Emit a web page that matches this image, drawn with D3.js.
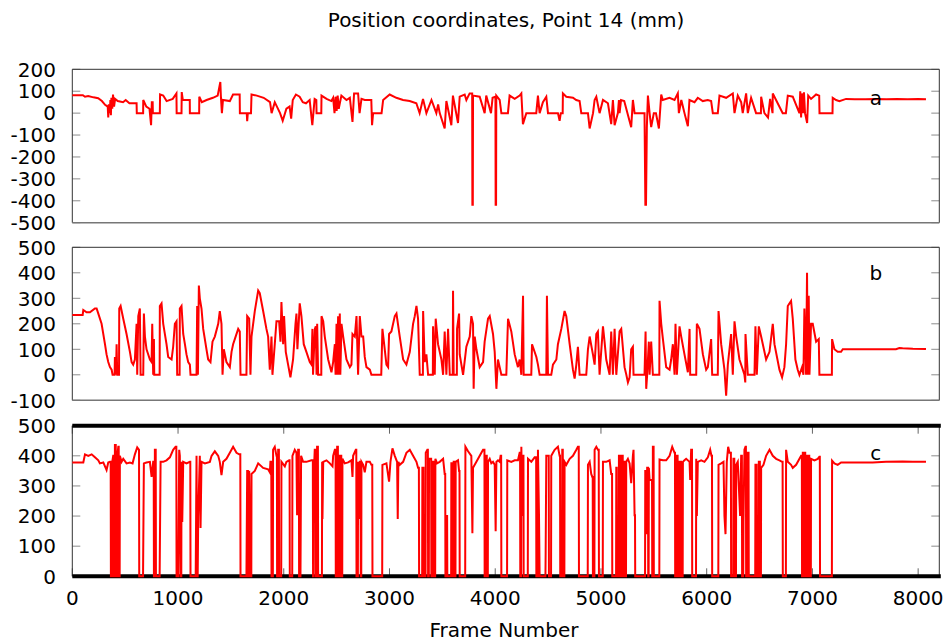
<!DOCTYPE html>
<html><head><meta charset="utf-8">
<script src="https://cdn.jsdelivr.net/npm/d3@7"></script>
<style>body{margin:0;background:#fff}svg{display:block}text{font-family:"DejaVu Sans",sans-serif;fill:#000}</style>
</head><body><svg id="chart" width="948" height="642"></svg>
<script>
const title = "Position coordinates, Point 14 (mm)";
const xLabel = "Frame Number";
const xTicks = [0,1000,2000,3000,4000,5000,6000,7000,8000];
const xDomain = [0,8200];
const panelLabels = ["a","b","c"];
const yTicksA = [-500,-400,-300,-200,-100,0,100,200];
const yTicksB = [-100,0,100,200,300,400,500];
const yTicksC = [0,100,200,300,400,500];
const labelFrame = 7600;
const labelValues = [70,400,410];

const seriesA = [[0,82],[100,82],[120,75],[150,78],[200,72],[245,68],[280,55],[310,38],[335,30],[340,-20],[345,40],[355,0],[360,60],[365,-10],[370,70],[378,20],[385,85],[395,30],[405,65],[430,55],[480,50],[505,60],[540,45],[608,45],[610,0],[670,0],[671,60],[700,30],[730,20],[745,-55],[752,50],[760,50],[762,0],[828,0],[830,85],[860,80],[892,55],[950,65],[985,90],[987,0],[1033,0],[1035,96],[1045,60],[1111,60],[1112,0],[1200,0],[1201,75],[1225,50],[1270,60],[1330,70],[1375,80],[1400,142],[1405,80],[1415,0],[1425,60],[1490,55],[1520,85],[1583,85],[1585,0],[1650,0],[1654,-37],[1660,0],[1690,0],[1695,85],[1745,80],[1810,70],[1870,50],[1885,0],[1915,50],[1965,0],[1990,-35],[2025,20],[2055,30],[2070,-25],[2085,60],[2115,85],[2150,75],[2180,50],[2210,45],[2245,60],[2270,-55],[2292,65],[2308,60],[2310,0],[2355,0],[2357,80],[2405,65],[2450,55],[2467,70],[2480,0],[2490,75],[2500,10],[2510,80],[2520,20],[2545,80],[2593,60],[2625,70],[2650,-40],[2665,90],[2703,90],[2717,0],[2735,65],[2766,60],[2828,60],[2835,-55],[2845,0],[2925,0],[2940,60],[3002,85],[3065,70],[3128,60],[3191,55],[3254,45],[3285,0],[3317,65],[3349,0],[3397,60],[3443,0],[3460,40],[3475,0],[3522,-70],[3538,55],[3585,-55],[3600,80],[3648,-45],[3664,75],[3711,85],[3727,60],[3758,90],[3782,90],[3784,-418],[3788,-418],[3790,80],[3853,75],[3900,0],[3915,80],[3960,0],[3975,70],[4002,75],[4004,-418],[4008,-418],[4010,80],[4042,60],[4058,0],[4120,0],[4136,80],[4184,65],[4231,80],[4247,90],[4262,-50],[4294,0],[4388,0],[4404,80],[4420,0],[4451,50],[4483,75],[4499,0],[4593,0],[4609,-35],[4620,0],[4638,0],[4640,90],[4672,75],[4735,70],[4766,60],[4798,55],[4814,0],[4877,0],[4893,-70],[4925,0],[4940,60],[4956,75],[4987,0],[5019,60],[5066,45],[5097,-50],[5113,60],[5129,-55],[5160,0],[5170,60],[5176,0],[5190,60],[5220,55],[5286,-64],[5302,60],[5318,0],[5412,0],[5420,-418],[5426,-418],[5434,-64],[5444,80],[5460,0],[5475,-64],[5500,0],[5520,0],[5548,-70],[5570,85],[5585,60],[5648,70],[5696,60],[5727,90],[5737,0],[5760,60],[5790,0],[5822,-60],[5837,60],[5885,50],[5916,70],[5963,55],[6010,60],[6042,55],[6058,0],[6105,0],[6121,80],[6184,70],[6247,90],[6263,0],[6294,80],[6326,50],[6341,0],[6373,90],[6389,0],[6420,70],[6467,0],[6513,0],[6515,75],[6546,0],[6580,-20],[6600,65],[6623,0],[6625,90],[6656,60],[6719,0],[6749,0],[6767,80],[6814,75],[6877,0],[6885,100],[6893,-20],[6900,90],[6910,0],[6920,95],[6930,0],[6950,-45],[6960,80],[6987,65],[7035,85],[7064,80],[7067,0],[7190,0],[7192,70],[7224,60],[7255,55],[7318,65],[7400,63],[7500,63],[7600,64],[7700,63],[7800,64],[7900,63],[8000,64],[8074,63]];

const seriesB = [[0,235],[98,235],[104,254],[135,245],[167,245],[214,260],[230,260],[246,240],[277,200],[309,120],[324,80],[340,50],[356,30],[372,20],[381,0],[400,0],[403,70],[413,0],[419,120],[425,0],[442,0],[444,260],[457,270],[482,220],[513,160],[545,90],[561,50],[576,40],[592,60],[608,200],[614,0],[624,230],[639,260],[646,0],[671,0],[677,240],[687,150],[702,100],[734,60],[750,50],[756,200],[765,0],[772,140],[775,0],[826,0],[828,270],[844,280],[860,200],[891,120],[907,70],[939,60],[954,110],[970,200],[986,210],[992,0],[1015,0],[1017,260],[1033,270],[1049,160],[1065,120],[1080,80],[1096,50],[1112,40],[1118,0],[1175,0],[1181,270],[1188,0],[1197,350],[1206,300],[1222,260],[1238,180],[1269,100],[1285,60],[1307,50],[1326,130],[1348,150],[1380,200],[1395,250],[1411,200],[1421,0],[1433,100],[1458,50],[1490,30],[1506,90],[1521,120],[1537,140],[1569,180],[1584,170],[1591,0],[1647,0],[1654,230],[1673,220],[1685,0],[1695,150],[1726,250],[1758,330],[1773,320],[1805,250],[1836,180],[1852,150],[1868,20],[1884,150],[1893,0],[1915,120],[1931,210],[1956,210],[1969,130],[1978,285],[1994,120],[2003,230],[2019,90],[2041,40],[2063,-10],[2088,60],[2111,200],[2120,240],[2129,100],[2151,280],[2167,230],[2189,120],[2214,90],[2246,50],[2262,40],[2271,180],[2277,0],[2294,180],[2303,190],[2310,0],[2316,200],[2325,0],[2355,0],[2357,230],[2373,210],[2388,150],[2420,60],[2451,10],[2467,50],[2483,120],[2490,0],[2499,200],[2505,0],[2514,230],[2520,0],[2530,240],[2535,0],[2546,200],[2562,150],[2593,60],[2625,30],[2640,40],[2650,160],[2672,150],[2688,230],[2703,0],[2719,230],[2735,150],[2751,150],[2766,70],[2782,30],[2814,20],[2829,0],[2922,0],[2933,180],[2955,100],[2971,40],[2987,30],[2996,160],[3018,170],[3050,230],[3066,240],[3097,150],[3129,60],[3160,40],[3192,90],[3223,200],[3239,230],[3255,270],[3270,220],[3286,0],[3316,0],[3318,250],[3333,50],[3349,80],[3365,0],[3410,0],[3412,190],[3428,0],[3437,220],[3459,120],[3491,60],[3507,0],[3522,170],[3538,0],[3554,180],[3570,0],[3598,0],[3601,330],[3607,0],[3637,0],[3639,180],[3658,240],[3664,80],[3696,0],[3727,110],[3759,150],[3774,230],[3790,200],[3796,-55],[3806,150],[3822,100],[3853,30],[3885,50],[3900,130],[3932,220],[3948,230],[3979,160],[3995,90],[4011,-55],[4026,60],[4042,30],[4058,0],[4105,0],[4121,220],[4152,170],[4184,80],[4215,30],[4231,60],[4247,0],[4263,310],[4269,0],[4341,0],[4348,120],[4389,70],[4404,40],[4420,0],[4483,0],[4489,310],[4499,0],[4530,0],[4546,40],[4578,60],[4593,120],[4625,180],[4656,250],[4672,230],[4704,120],[4735,20],[4751,-15],[4767,40],[4782,110],[4798,0],[4861,0],[4877,100],[4893,150],[4924,80],[4940,40],[4956,160],[4971,170],[4987,0],[5019,190],[5034,130],[5050,60],[5082,0],[5097,170],[5113,0],[5129,180],[5145,0],[5176,170],[5192,180],[5223,30],[5240,0],[5255,-30],[5271,-10],[5286,100],[5302,110],[5308,0],[5412,0],[5422,170],[5428,-55],[5437,0],[5453,130],[5460,0],[5475,130],[5491,0],[5552,0],[5554,290],[5570,200],[5586,140],[5617,30],[5649,20],[5664,60],[5680,120],[5696,0],[5705,200],[5718,0],[5743,190],[5759,150],[5790,80],[5822,10],[5838,180],[5844,0],[5901,0],[5907,200],[5932,180],[5964,80],[5995,20],[6011,30],[6042,140],[6052,0],[6105,0],[6112,250],[6137,120],[6168,20],[6184,-82],[6200,40],[6231,160],[6247,0],[6263,210],[6279,150],[6310,60],[6342,20],[6357,0],[6365,-30],[6367,160],[6389,0],[6452,0],[6461,190],[6474,0],[6493,190],[6515,150],[6562,60],[6594,90],[6625,200],[6641,120],[6688,20],[6713,-10],[6735,30],[6751,120],[6767,270],[6798,290],[6814,220],[6839,60],[6861,20],[6877,0],[6902,30],[6915,0],[6924,260],[6940,0],[6949,400],[6956,0],[6965,310],[6972,0],[6987,200],[7003,200],[7035,130],[7060,140],[7066,0],[7184,0],[7186,140],[7208,100],[7239,90],[7271,90],[7287,100],[7500,100],[7790,100],[7822,105],[7853,104],[7950,102],[8074,101]];

const seriesC = [[0,378],[104,378],[120,405],[151,400],[183,405],[214,395],[246,385],[261,375],[293,378],[324,353],[340,378],[356,380],[363,380],[365,0],[376,0],[378,380],[387,400],[392,400],[394,0],[400,0],[403,436],[411,436],[413,0],[423,0],[425,400],[435,430],[439,430],[441,0],[448,0],[450,400],[466,380],[482,390],[513,375],[545,378],[570,375],[592,405],[614,428],[631,420],[633,0],[669,0],[677,375],[702,378],[734,380],[750,330],[765,380],[770,380],[772,0],[779,0],[781,420],[789,420],[791,0],[826,0],[835,380],[860,380],[891,385],[923,395],[954,420],[977,430],[984,430],[986,0],[1002,0],[1011,420],[1017,400],[1024,0],[1031,0],[1033,380],[1040,180],[1049,380],[1080,375],[1112,380],[1116,380],[1118,0],[1167,0],[1175,400],[1181,0],[1186,0],[1191,200],[1206,400],[1213,160],[1222,380],[1254,375],[1301,380],[1317,400],[1348,415],[1380,400],[1395,380],[1411,336],[1427,380],[1458,390],[1490,410],[1521,430],[1553,410],[1578,405],[1589,405],[1591,0],[1647,0],[1654,350],[1661,350],[1663,0],[1671,0],[1673,350],[1679,170],[1685,0],[1693,0],[1695,340],[1726,350],[1758,375],[1805,360],[1852,355],[1868,345],[1874,380],[1882,380],[1884,0],[1897,0],[1899,420],[1915,430],[1931,400],[1935,400],[1937,0],[1945,0],[1947,420],[1954,420],[1956,0],[1976,0],[1978,380],[2010,365],[2025,380],[2051,385],[2055,385],[2057,0],[2080,0],[2082,400],[2104,420],[2120,410],[2126,203],[2136,420],[2143,420],[2145,0],[2158,0],[2164,400],[2183,380],[2214,380],[2262,385],[2275,385],[2277,0],[2282,0],[2284,340],[2293,420],[2301,420],[2303,0],[2313,0],[2315,430],[2323,430],[2325,0],[2361,0],[2363,380],[2366,190],[2373,380],[2404,385],[2436,375],[2461,365],[2467,400],[2483,420],[2490,420],[2492,0],[2503,0],[2505,430],[2512,430],[2514,0],[2528,0],[2530,400],[2544,400],[2546,0],[2553,0],[2555,390],[2577,375],[2609,378],[2640,385],[2650,330],[2656,400],[2681,420],[2686,420],[2688,0],[2701,0],[2703,380],[2710,190],[2719,380],[2726,380],[2728,0],[2733,0],[2735,380],[2751,370],[2766,345],[2782,380],[2814,380],[2829,370],[2837,370],[2839,0],[2931,0],[2933,370],[2971,375],[2996,314],[3009,380],[3028,425],[3050,400],[3072,380],[3078,190],[3084,380],[3097,370],[3129,380],[3160,410],[3192,420],[3223,400],[3255,380],[3270,360],[3278,360],[3280,0],[3309,0],[3311,360],[3322,360],[3324,0],[3341,0],[3343,410],[3358,420],[3363,420],[3365,0],[3372,0],[3374,390],[3394,390],[3396,0],[3410,0],[3412,380],[3416,380],[3418,0],[3432,0],[3434,390],[3450,375],[3475,380],[3507,390],[3522,340],[3527,340],[3529,0],[3536,0],[3538,200],[3545,200],[3547,0],[3583,0],[3585,375],[3593,375],[3595,0],[3605,0],[3607,380],[3615,380],[3617,0],[3624,0],[3626,380],[3648,385],[3658,350],[3662,350],[3664,0],[3716,0],[3718,430],[3743,415],[3774,400],[3784,143],[3790,360],[3822,380],[3869,410],[3885,420],[3898,420],[3900,0],[3914,0],[3916,400],[3920,400],[3922,0],[3930,0],[3932,380],[3948,390],[3963,375],[3979,380],[3995,370],[4004,150],[4011,380],[4026,385],[4042,380],[4051,400],[4056,400],[4058,0],[4112,0],[4114,385],[4152,380],[4184,385],[4215,385],[4231,410],[4235,410],[4237,0],[4245,0],[4247,430],[4256,200],[4263,400],[4267,400],[4269,0],[4308,0],[4310,390],[4341,380],[4373,395],[4387,395],[4389,0],[4402,0],[4404,420],[4414,200],[4420,0],[4475,0],[4477,79],[4483,400],[4499,400],[4506,400],[4508,0],[4528,0],[4530,400],[4546,410],[4562,420],[4593,430],[4609,400],[4613,400],[4615,0],[4632,0],[4634,420],[4639,420],[4641,0],[4654,0],[4656,380],[4672,370],[4704,390],[4735,400],[4767,420],[4782,430],[4790,430],[4792,0],[4875,0],[4877,370],[4893,380],[4908,340],[4918,330],[4922,330],[4924,0],[4938,0],[4940,420],[4956,430],[4971,420],[4979,420],[4981,0],[5017,0],[5019,380],[5050,380],[5082,385],[5097,340],[5105,340],[5107,0],[5143,0],[5145,360],[5149,360],[5151,0],[5168,0],[5170,400],[5174,400],[5176,0],[5190,0],[5192,400],[5206,400],[5208,0],[5221,0],[5223,380],[5231,380],[5233,0],[5237,0],[5239,380],[5255,390],[5271,375],[5286,309],[5302,400],[5308,420],[5318,203],[5322,203],[5324,0],[5417,0],[5419,353],[5428,140],[5437,360],[5445,360],[5447,0],[5451,0],[5453,360],[5460,320],[5475,320],[5483,320],[5485,0],[5489,0],[5491,430],[5498,430],[5500,0],[5552,0],[5554,388],[5586,385],[5617,385],[5649,400],[5674,430],[5696,410],[5700,410],[5702,0],[5716,0],[5718,400],[5725,400],[5727,0],[5741,0],[5743,380],[5757,380],[5759,0],[5773,0],[5775,380],[5790,385],[5806,390],[5838,380],[5844,320],[5853,420],[5861,420],[5863,0],[5899,0],[5901,390],[5907,200],[5916,380],[5948,385],[5979,380],[6011,395],[6033,420],[6045,400],[6050,400],[6052,0],[6110,0],[6112,370],[6137,375],[6159,380],[6168,200],[6178,140],[6190,380],[6203,430],[6216,410],[6229,410],[6231,0],[6251,0],[6253,390],[6261,390],[6263,0],[6277,0],[6279,370],[6294,380],[6316,200],[6326,400],[6333,400],[6335,0],[6346,0],[6348,180],[6357,420],[6367,430],[6371,430],[6373,0],[6387,0],[6389,410],[6396,410],[6398,0],[6459,0],[6461,370],[6472,370],[6474,0],[6491,0],[6493,380],[6503,380],[6505,0],[6513,0],[6515,360],[6537,370],[6562,400],[6594,420],[6625,400],[6657,390],[6688,385],[6713,380],[6718,380],[6720,0],[6749,0],[6751,420],[6767,380],[6798,370],[6814,360],[6846,370],[6893,400],[6900,400],[6902,0],[6907,0],[6909,410],[6913,410],[6915,0],[6922,0],[6924,410],[6932,410],[6934,0],[6944,0],[6946,400],[6954,400],[6956,0],[6963,0],[6965,400],[6970,400],[6972,0],[6985,0],[6987,390],[7019,385],[7050,390],[7066,397],[7070,397],[7072,0],[7184,0],[7186,384],[7208,375],[7239,370],[7271,378],[7570,378],[7696,380],[7853,381],[7950,380],[8074,380]];

// layout (pixels)
const left = 72.3, right = 939.3;
const panels = [
  {data: seriesA, ticks: yTicksA, top: 69.3, bottom: 222.7, kind: "plain"},
  {data: seriesB, ticks: yTicksB, top: 247.3, bottom: 400.3, kind: "plain"},
  {data: seriesC, ticks: yTicksC, top: 425.7, bottom: 576.3, kind: "bottom"}
];

const svg = d3.select("#chart");
const x = d3.scaleLinear().domain(xDomain).range([left, right]);

svg.append("text").attr("x", 506).attr("y", 27).attr("text-anchor","middle")
  .attr("font-size", 20).text(title);

panels.forEach((p, i) => {
  const ext = d3.extent(p.ticks);
  const y = d3.scaleLinear().domain(ext).range([p.bottom, p.top]);
  const g = svg.append("g");

  const ticks = p.ticks;
  g.selectAll(".tl").data(ticks).join("line")
    .attr("x1", left).attr("x2", left + 8)
    .attr("y1", d => y(d)).attr("y2", d => y(d))
    .attr("stroke", "#8c8c8c").attr("stroke-width", 1);
  g.selectAll(".tr").data(ticks).join("line")
    .attr("x1", right - 8).attr("x2", right)
    .attr("y1", d => y(d)).attr("y2", d => y(d))
    .attr("stroke", "#8c8c8c").attr("stroke-width", 1);
  g.selectAll(".yl").data(ticks).join("text")
    .attr("x", 56).attr("y", d => y(d)).attr("dy", "0.36em")
    .attr("text-anchor", "end").attr("font-size", 20)
    .text(d => d);

  if (p.kind === "bottom") {
    g.selectAll(".xb").data(xTicks).join("line")
      .attr("x1", d => x(d)).attr("x2", d => x(d))
      .attr("y1", p.bottom).attr("y2", p.bottom - 8)
      .attr("stroke", "#666");
    g.selectAll(".xt").data(xTicks).join("line")
      .attr("x1", d => x(d)).attr("x2", d => x(d))
      .attr("y1", p.top).attr("y2", p.top + 8)
      .attr("stroke", "#666");
    g.selectAll(".xl").data(xTicks).join("text")
      .attr("x", d => x(d)).attr("y", 605).attr("text-anchor", "middle")
      .attr("font-size", 20).text(d => d);
    g.append("line").attr("x1", left).attr("x2", left).attr("y1", p.top).attr("y2", p.bottom).attr("stroke", "#333");
    g.append("line").attr("x1", right).attr("x2", right).attr("y1", p.top).attr("y2", p.bottom).attr("stroke", "#333");
    g.append("line").attr("x1", left).attr("x2", right + 1.5).attr("y1", p.top).attr("y2", p.top).attr("stroke", "#000").attr("stroke-width", 4);
    g.append("line").attr("x1", left).attr("x2", right + 1.5).attr("y1", p.bottom).attr("y2", p.bottom).attr("stroke", "#000").attr("stroke-width", 4);
  } else {
    g.append("line").attr("x1", left).attr("x2", right).attr("y1", p.top).attr("y2", p.top).attr("stroke", "#333");
    g.append("line").attr("x1", left).attr("x2", left).attr("y1", p.top).attr("y2", p.bottom).attr("stroke", "#333");
    g.append("line").attr("x1", right).attr("x2", right).attr("y1", p.top).attr("y2", p.bottom).attr("stroke", "#333");
    g.append("line").attr("x1", left).attr("x2", right).attr("y1", p.bottom).attr("y2", p.bottom).attr("stroke", "#777").attr("stroke-width", 1.5);
  }

  const line = d3.line().x(d => x(d[0])).y(d => y(d[1]));
  g.append("path").datum(p.data).attr("d", line)
    .attr("fill", "none").attr("stroke", "#ff0000").attr("stroke-width", 2)
    .attr("stroke-linejoin", "miter");

  g.append("text").attr("x", x(labelFrame)).attr("y", y(labelValues[i]))
    .attr("dy", "0.36em").attr("text-anchor", "middle").attr("font-size", 20)
    .text(panelLabels[i]);
});

svg.append("text").attr("x", 504).attr("y", 637).attr("text-anchor", "middle")
  .attr("font-size", 20).text(xLabel);
</script></body></html>
